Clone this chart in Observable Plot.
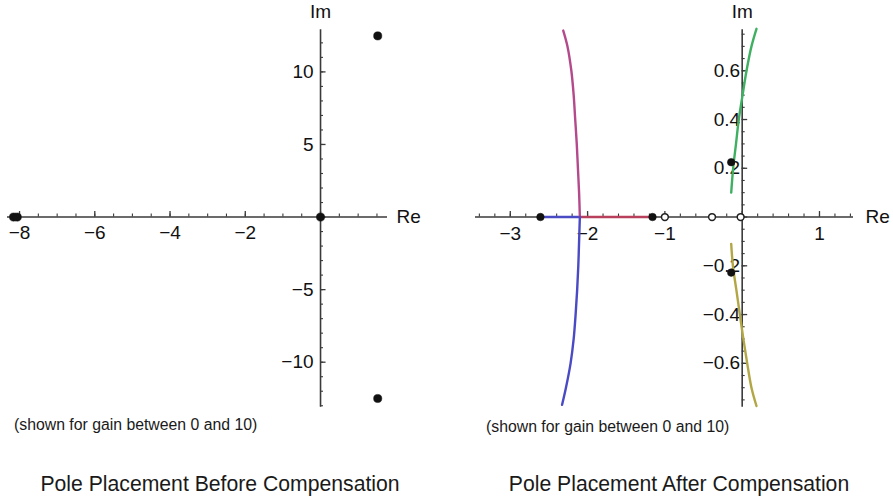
<!DOCTYPE html>
<html>
<head>
<meta charset="utf-8">
<script src="https://cdn.jsdelivr.net/npm/d3@7"></script>
<script src="https://cdn.jsdelivr.net/npm/@observablehq/plot@0.6"></script>
<style>
  body { margin: 0; background: #fff; font-family: "Liberation Sans", Arial, sans-serif; }
  #wrap { position: relative; width: 893px; height: 500px; overflow: hidden; background: #fff; }
  .panel { position: absolute; top: 0; }
  .panel svg { overflow: visible; }
  .title { position: absolute; top: 472px; font-size: 21.2px; color: #1a1a1a; white-space: nowrap; transform: translateX(-50%); }
  .cap { position: absolute; font-size: 15.8px; color: #1a1a1a; white-space: nowrap; }
</style>
</head>
<body>
<div id="wrap">
  <div class="panel" id="left"></div>
  <div class="panel" id="right"></div>
  <div class="cap" style="left:14px; top:416px;">(shown for gain between 0 and 10)</div>
  <div class="cap" style="left:486px; top:418px;">(shown for gain between 0 and 10)</div>
  <div class="title" style="left:220px;">Pole Placement Before Compensation</div>
  <div class="title" style="left:679px;">Pole Placement After Compensation</div>
</div>
<script>
// ---------- Data: left panel (before compensation) ----------
const beforePoleRe = [-8.16, -8.06, 0, 1.52, 1.52];
const beforePoleIm = [0, 0, 0, 12.48, -12.5];
const beforeXLabels = [-8, -6, -4, -2];
const beforeYLabels = [10, 5, -5, -10];

// ---------- Data: right panel (after compensation) ----------
const afterPoleRe = [-2.61, -1.16, -0.142, -0.142];
const afterPoleIm = [0, 0, 0.225, -0.228];
const afterZeroRe = [-1.0, -0.39, -0.02];
const afterZeroIm = [0, 0, 0];

const redAxisRe = [-1.16, -2.10];
const redAxisIm = [0, 0];
const blueAxisRe = [-2.61, -2.10];
const blueAxisIm = [0, 0];
const magentaRe = [-2.10, -2.11, -2.125, -2.14, -2.16, -2.18, -2.21, -2.26, -2.315];
const magentaIm = [0, 0.1, 0.2, 0.3, 0.4, 0.5, 0.6, 0.7, 0.765];
const blueRe = [-2.10, -2.11, -2.12, -2.135, -2.155, -2.18, -2.22, -2.28, -2.33];
const blueIm = [0, -0.1, -0.2, -0.3, -0.4, -0.5, -0.6, -0.7, -0.77];
const greenRe = [-0.142, -0.117, -0.08, -0.044, 0.005, 0.056, 0.12, 0.185];
const greenIm = [0.10, 0.2, 0.3, 0.4, 0.5, 0.6, 0.7, 0.772];
const oliveRe = [-0.142, -0.12, -0.075, -0.03, 0.015, 0.065, 0.12, 0.185];
const oliveIm = [-0.11, -0.2, -0.3, -0.4, -0.5, -0.6, -0.7, -0.775];
const afterXLabels = [-3, -2, -1, 1];
const afterYLabels = [0.6, 0.4, 0.2, -0.2, -0.4, -0.6];

const zip = (re, im) => re.map((r, i) => ({re: r, im: im[i]}));
const range = (a, b, s) => d3.range(Math.round(a / s), Math.round(b / s) + 1).map(k => +(k * s).toFixed(6));

const AX = "#3a3a3a";
const FONT = "Liberation Sans, Arial, sans-serif";

function panel(o) {
  const kx = (o.width - o.marginLeft - o.marginRight) / (o.xDomain[1] - o.xDomain[0]);
  const ky = (o.height - o.marginTop - o.marginBottom) / (o.yDomain[1] - o.yDomain[0]);
  const fx = o.xFmt, fy = o.yFmt;
  const marks = [
    Plot.ruleY([0], {x1: o.xDomain[0], x2: o.xDomain[1], stroke: AX, strokeWidth: 1.6}),
    Plot.ruleX([0], {y1: o.yDomain[0], y2: o.yDomain[1], stroke: AX, strokeWidth: 1.6}),
    Plot.ruleX(o.xMinor, {x: d => d, y1: () => 0, y2: () => 3 / ky, stroke: AX, strokeWidth: 1.1}),
    Plot.ruleX(o.xMajor, {x: d => d, y1: () => 0, y2: () => 5.5 / ky, stroke: AX, strokeWidth: 1.3}),
    Plot.ruleY(o.yMinor, {y: d => d, x1: () => 0, x2: () => 3 / kx, stroke: AX, strokeWidth: 1.1}),
    Plot.ruleY(o.yMajor, {y: d => d, x1: () => 0, x2: () => 5.5 / kx, stroke: AX, strokeWidth: 1.3}),
    Plot.text(o.xLabels, {x: d => d, y: () => 0, text: d => fx(d), dy: o.xLabelDy, fontSize: 19, fill: "#111", lineAnchor: "middle", fontFamily: FONT}),
    Plot.text(o.yLabels, {x: () => 0, y: d => d, text: d => fy(d), dx: o.yLabelDx, textAnchor: "end", fontSize: 19, fill: "#111", lineAnchor: "middle", fontFamily: FONT}),
    Plot.text(["Re"], {x: () => o.xDomain[1], y: () => 0, text: d => d, dx: o.reDx, textAnchor: "start", fontSize: 19, fill: "#111", lineAnchor: "middle", fontFamily: FONT}),
    Plot.text(["Im"], {x: () => 0, y: () => o.yDomain[1], text: d => d, dy: -18, fontSize: 19, fill: "#111", lineAnchor: "middle", fontFamily: FONT}),
    ...o.marks
  ];
  return Plot.plot({
    width: o.width, height: o.height,
    marginLeft: o.marginLeft, marginRight: o.marginRight,
    marginTop: o.marginTop, marginBottom: o.marginBottom,
    x: {domain: o.xDomain, axis: null},
    y: {domain: o.yDomain, axis: null},
    style: {background: "transparent", overflow: "visible"},
    marks
  });
}

const intFmt = d3.format("d");
const decFmt = d3.format(".1f");

document.getElementById("left").style.left = "0px";
document.getElementById("left").appendChild(panel({
  width: 446, height: 440,
  marginLeft: 7, marginRight: 59, marginTop: 29.3, marginBottom: 33.3,
  xDomain: [-8.32, 1.78], yDomain: [-13.1, 12.9],
  xMajor: range(-8, 0, 2), xMinor: range(-8, 1.5, 0.5),
  yMajor: range(-10, 10, 5), yMinor: range(-13, 12, 1),
  xLabels: beforeXLabels, yLabels: beforeYLabels,
  xFmt: intFmt, yFmt: intFmt,
  xLabelDy: 16, yLabelDx: -7, reDx: 9,
  marks: [
    Plot.dot(zip(beforePoleRe, beforePoleIm), {x: "re", y: "im", r: 4.1, fill: "#111", stroke: "#111", strokeWidth: 0.5})
  ]
}));

document.getElementById("right").style.left = "446px";
document.getElementById("right").appendChild(panel({
  width: 447, height: 440,
  marginLeft: 29, marginRight: 40, marginTop: 29.3, marginBottom: 33.3,
  xDomain: [-3.45, 1.44], yDomain: [-0.78, 0.768],
  xMajor: range(-3, 1, 1), xMinor: range(-3.4, 1.4, 0.2),
  yMajor: range(-0.6, 0.6, 0.2), yMinor: range(-0.75, 0.75, 0.05),
  xLabels: afterXLabels, yLabels: afterYLabels,
  xFmt: intFmt, yFmt: decFmt,
  xLabelDy: 17, yLabelDx: -2, reDx: 12,
  marks: [
    Plot.line(zip(blueAxisRe, blueAxisIm), {x: "re", y: "im", stroke: "#4a4ac4", strokeWidth: 2.4}),
    Plot.line(zip(redAxisRe, redAxisIm), {x: "re", y: "im", stroke: "#b8405c", strokeWidth: 2.4}),
    Plot.line(zip(magentaRe, magentaIm), {x: "re", y: "im", stroke: "#b44a8c", strokeWidth: 2.4, curve: "catmull-rom"}),
    Plot.line(zip(blueRe, blueIm), {x: "re", y: "im", stroke: "#4a4ac4", strokeWidth: 2.4, curve: "catmull-rom"}),
    Plot.line(zip(greenRe, greenIm), {x: "re", y: "im", stroke: "#3fb062", strokeWidth: 2.4, curve: "catmull-rom"}),
    Plot.line(zip(oliveRe, oliveIm), {x: "re", y: "im", stroke: "#b3a645", strokeWidth: 2.4, curve: "catmull-rom"}),
    Plot.dot(zip(afterZeroRe, afterZeroIm), {x: "re", y: "im", r: 3.4, fill: "#fff", stroke: "#222", strokeWidth: 1.5}),
    Plot.dot(zip(afterPoleRe, afterPoleIm), {x: "re", y: "im", r: 3.8, fill: "#111", stroke: "#111", strokeWidth: 0.5})
  ]
}));
</script>
</body>
</html>
